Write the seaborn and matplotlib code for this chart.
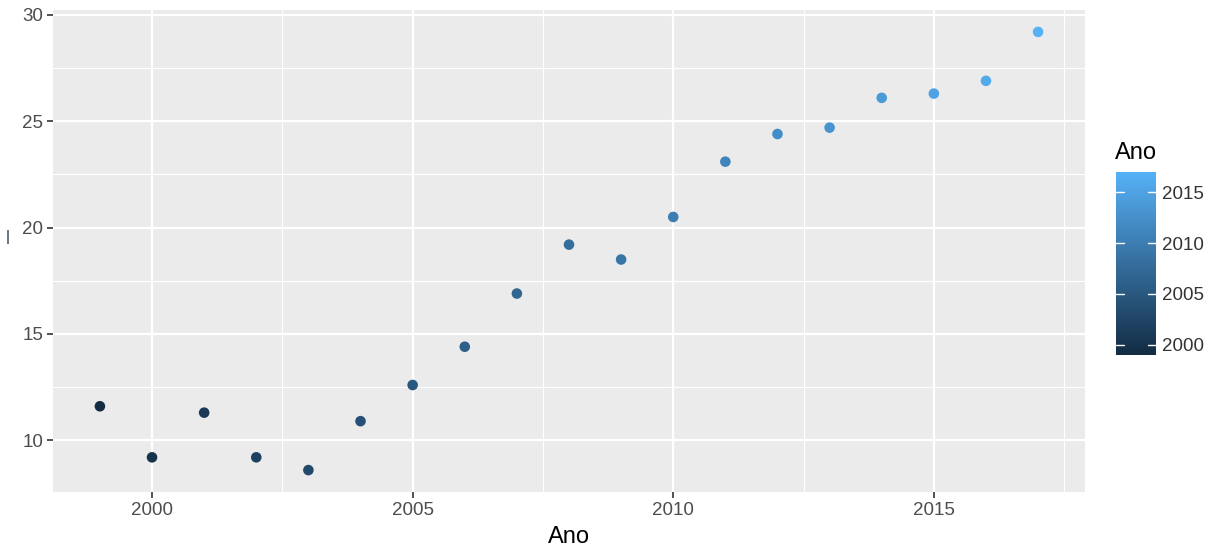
import numpy as np
import pandas as pd
import matplotlib
matplotlib.use('Agg')
import matplotlib.pyplot as plt
import seaborn as sns
from matplotlib.colors import LinearSegmentedColormap, Normalize
from matplotlib.ticker import MultipleLocator

# Data
anos = [1999, 2000, 2001, 2002, 2003, 2004, 2005, 2006, 2007, 2008,
        2009, 2010, 2011, 2012, 2013, 2014, 2015, 2016, 2017]
valores = [11.6, 9.2, 11.3, 9.2, 8.6, 10.9, 12.6, 14.4, 16.9, 19.2,
           18.5, 20.5, 23.1, 24.4, 24.7, 26.1, 26.3, 26.9, 29.2]
x_ticks = [2000, 2005, 2010, 2015]
y_ticks = [10, 15, 20, 25, 30]

df = pd.DataFrame({'Ano': anos, 'Valor': valores})

# ggplot2 default continuous gradient
CMAP = LinearSegmentedColormap.from_list('gg', ['#132B43', '#56B1F7'])
norm = Normalize(vmin=min(anos), vmax=max(anos))

sns.set_style('darkgrid', {'axes.facecolor': '#EBEBEB', 'grid.color': 'white'})
plt.rcParams['font.family'] = ['Liberation Sans', 'DejaVu Sans']

fig = plt.figure(figsize=(12.16, 5.5), dpi=100)
ax = fig.add_axes([53 / 1216, 58 / 550, 1032 / 1216, 482 / 550])

sns.scatterplot(data=df, x='Ano', y='Valor', hue='Ano', palette=CMAP,
                hue_norm=norm, s=58, edgecolor='none', legend=False, ax=ax,
                zorder=3)

# axis limits with ggplot-style 5% expansion
xr = max(anos) - min(anos)
yr = max(valores) - min(valores)
ax.set_xlim(min(anos) - 0.05 * xr, max(anos) + 0.05 * xr)
ax.set_ylim(min(valores) - 0.05 * yr, max(valores) + 0.05 * yr)

ax.set_xticks(x_ticks)
ax.set_yticks(y_ticks)
ax.xaxis.set_minor_locator(MultipleLocator(2.5))
ax.yaxis.set_minor_locator(MultipleLocator(2.5))
ax.grid(True, which='major', color='white', linewidth=1.6)
ax.grid(True, which='minor', color='white', linewidth=0.8)
ax.set_axisbelow(True)
for sp in ax.spines.values():
    sp.set_visible(False)

ax.tick_params(axis='both', which='major', length=4, width=1.2, color='#333333',
               labelsize=13.5, labelcolor='#4D4D4D', pad=3, bottom=True, left=True)
ax.tick_params(axis='both', which='minor', length=0)
ax.set_xlabel('Ano', fontsize=17, color='black', labelpad=5)
ax.set_ylabel('')

fig.text(8 / 1216, 1 - 237 / 550, '|', fontsize=11, color='#132B43',
         ha='center', va='center')

# colourbar like ggplot's guide
cax = fig.add_axes([1116 / 1216, 1 - 355 / 550, 40 / 1216, 183 / 550])
sm = plt.cm.ScalarMappable(norm=norm, cmap=CMAP)
cb = fig.colorbar(sm, cax=cax, ticks=x_ticks)
cb.outline.set_visible(False)
cax.tick_params(length=0, labelsize=13.5, labelcolor='#333333', pad=4)
for t in x_ticks:
    cax.plot([0, 0.2], [t, t], color='white', lw=1, transform=cax.get_yaxis_transform(), zorder=5)
    cax.plot([0.8, 1], [t, t], color='white', lw=1, transform=cax.get_yaxis_transform(), zorder=5)
fig.text(1115 / 1216, 1 - 153 / 550, 'Ano', fontsize=17, color='black',
         ha='left', va='center')

fig.savefig('out.png', dpi=100, facecolor='white')
